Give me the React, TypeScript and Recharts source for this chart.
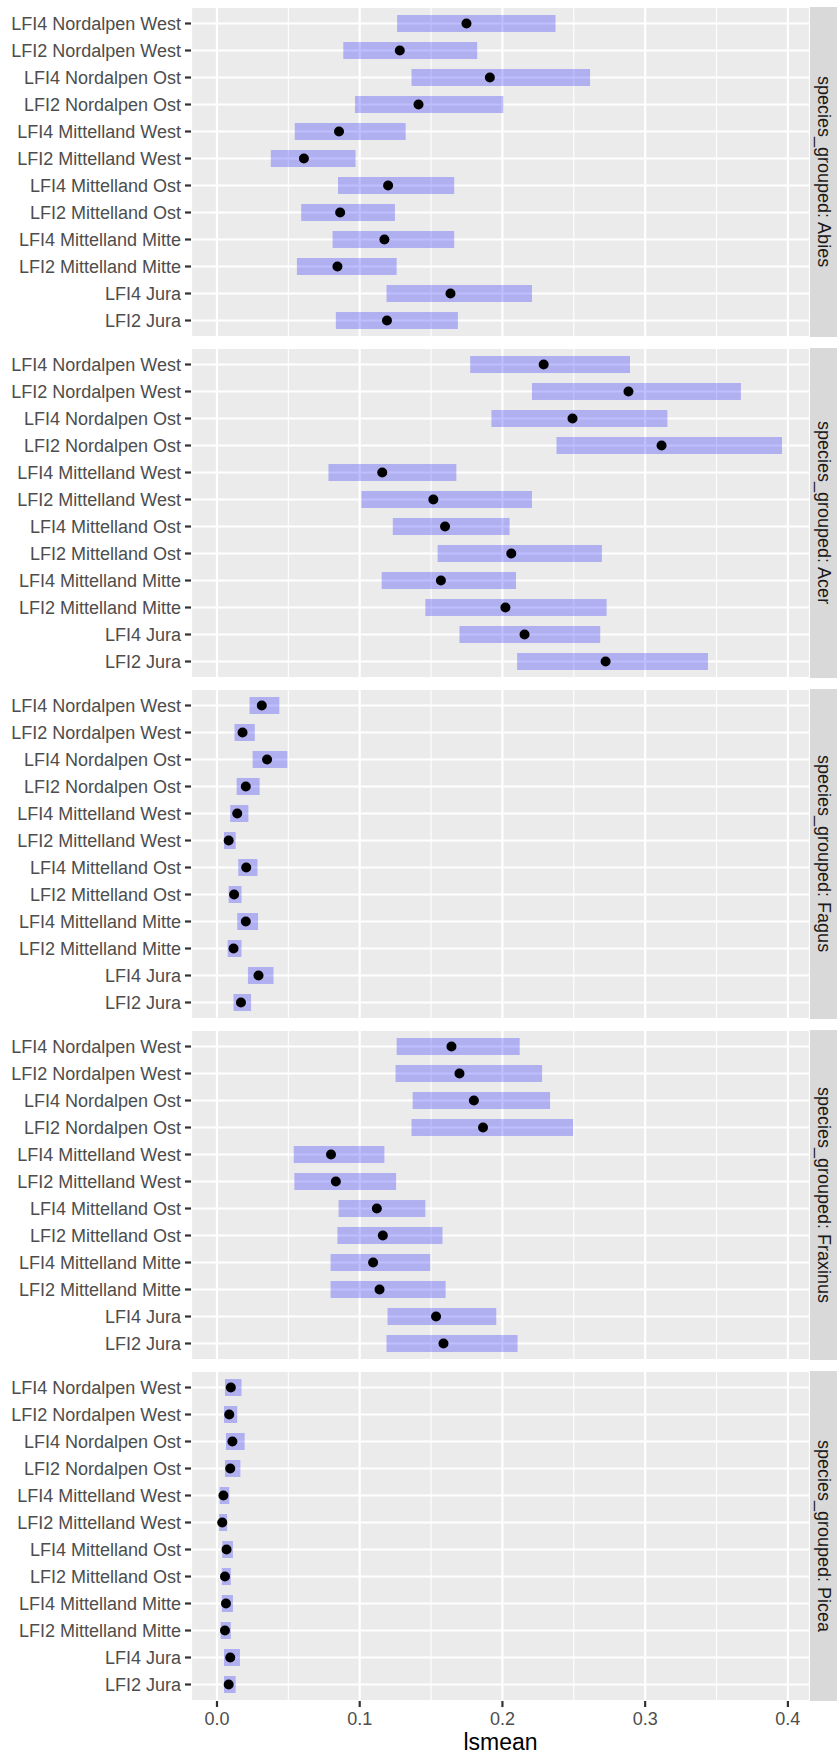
import React from 'react';
import { ComposedChart, Bar, Line, XAxis, YAxis, CartesianGrid } from 'recharts';

const categories = [
  'LFI4 Nordalpen West',
  'LFI2 Nordalpen West',
  'LFI4 Nordalpen Ost',
  'LFI2 Nordalpen Ost',
  'LFI4 Mittelland West',
  'LFI2 Mittelland West',
  'LFI4 Mittelland Ost',
  'LFI2 Mittelland Ost',
  'LFI4 Mittelland Mitte',
  'LFI2 Mittelland Mitte',
  'LFI4 Jura',
  'LFI2 Jura',
];

const xTicks = [0, 0.1, 0.2, 0.3, 0.4];
const xMinorTicks = [0.05, 0.15, 0.25, 0.35];
const xDomain = [-0.0182, 0.4155];

const abiesMean = [0.1748, 0.1281, 0.1912, 0.1412, 0.0855, 0.0609, 0.1199, 0.0863, 0.1173, 0.0844, 0.1636, 0.1191];
const abiesLow = [0.1262, 0.0885, 0.1363, 0.0967, 0.0545, 0.0377, 0.0848, 0.059, 0.081, 0.056, 0.1188, 0.0833];
const abiesHigh = [0.2372, 0.1823, 0.2614, 0.2006, 0.1322, 0.0971, 0.1662, 0.1247, 0.1662, 0.1259, 0.2207, 0.1688];

const acerMean = [0.2289, 0.2883, 0.2491, 0.3115, 0.1158, 0.1516, 0.1598, 0.2062, 0.1569, 0.2021, 0.2155, 0.2723];
const acerLow = [0.1774, 0.2207, 0.1923, 0.2379, 0.0781, 0.1012, 0.1232, 0.1546, 0.1154, 0.146, 0.1699, 0.2103];
const acerHigh = [0.2894, 0.3671, 0.3156, 0.3959, 0.1677, 0.2207, 0.205, 0.2697, 0.2095, 0.273, 0.2685, 0.344];

const fagusMean = [0.0314, 0.0179, 0.0351, 0.0202, 0.0142, 0.0082, 0.0205, 0.012, 0.0202, 0.0116, 0.0291, 0.0168];
const fagusLow = [0.0228, 0.0123, 0.025, 0.0138, 0.0093, 0.0049, 0.0149, 0.0082, 0.0142, 0.0075, 0.0217, 0.0116];
const fagusHigh = [0.0437, 0.0265, 0.0493, 0.0299, 0.022, 0.0131, 0.0284, 0.0172, 0.0288, 0.0172, 0.0396, 0.0239];

const fraxinusMean = [0.1643, 0.1699, 0.18, 0.1864, 0.0799, 0.0833, 0.112, 0.1162, 0.1094, 0.1139, 0.1535, 0.1587];
const fraxinusLow = [0.1259, 0.1251, 0.1371, 0.1363, 0.0538, 0.0542, 0.0852, 0.0844, 0.0796, 0.0796, 0.1195, 0.1188];
const fraxinusHigh = [0.2121, 0.2278, 0.2334, 0.2495, 0.1173, 0.1255, 0.146, 0.158, 0.1494, 0.1602, 0.1957, 0.2106];

const piceaMean = [0.0097, 0.0086, 0.0108, 0.0093, 0.0045, 0.0037, 0.0067, 0.0056, 0.0063, 0.0056, 0.0093, 0.0082];
const piceaLow = [0.0056, 0.0049, 0.0063, 0.0056, 0.0019, 0.0015, 0.0037, 0.0034, 0.0034, 0.0026, 0.0049, 0.0049];
const piceaHigh = [0.0172, 0.0142, 0.0194, 0.0164, 0.0086, 0.0071, 0.0112, 0.0097, 0.0112, 0.0097, 0.0161, 0.0131];

const panels = [
  { name: 'Abies', mean: abiesMean, low: abiesLow, high: abiesHigh },
  { name: 'Acer', mean: acerMean, low: acerLow, high: acerHigh },
  { name: 'Fagus', mean: fagusMean, low: fagusLow, high: fagusHigh },
  { name: 'Fraxinus', mean: fraxinusMean, low: fraxinusLow, high: fraxinusHigh },
  { name: 'Picea', mean: piceaMean, low: piceaLow, high: piceaHigh },
];

const FONT = '"Liberation Sans", Arial, Helvetica, sans-serif';
const PITCH = 341;
const PLOT_TOP = 7;
const PLOT_H = 330;

function Panel({ p, index, last }: { p: any; index: number; last: boolean }) {
  const data = categories.map((c, i) => ({ cat: c, mean: p.mean[i], range: [p.low[i], p.high[i]] }));
  const top = index * PITCH;
  const height = last ? 1755 - top : PITCH;
  return (
    <div style={{ position: 'absolute', left: 0, top, width: 837, height }}>
      <ComposedChart
        layout="vertical"
        width={837}
        height={height}
        data={data}
        margin={{ top: PLOT_TOP, right: 27, left: 0, bottom: last ? 0 : height - PLOT_TOP - PLOT_H }}
      >
        <CartesianGrid
          xAxisId="minor"
          fill="#EBEBEB"
          stroke="#FFFFFF"
          strokeWidth={1.1}
          horizontal={false}
        />
        <CartesianGrid stroke="#FFFFFF" strokeWidth={2.2} />
        <XAxis
          xAxisId="minor"
          type="number"
          domain={xDomain}
          allowDataOverflow
          ticks={xMinorTicks}
          interval={0}
          hide
        />
        <XAxis
          type="number"
          domain={xDomain}
          allowDataOverflow
          ticks={xTicks}
          interval={0}
          hide={!last}
          height={last ? height - PLOT_TOP - PLOT_H : 0}
          tickFormatter={(v: number) => v.toFixed(1)}
          tick={{ fill: '#4D4D4D', fontSize: 18, fontFamily: FONT }}
          tickLine={{ stroke: '#333333', strokeWidth: 2.2 }}
          tickSize={6}
          tickMargin={5}
          axisLine={false}
          label={{ value: 'lsmean', position: 'insideBottom', offset: 5, fill: '#000000', fontSize: 23, fontFamily: FONT }}
        />
        <YAxis
          type="category"
          dataKey="cat"
          width={191}
          padding={{ top: 3, bottom: 3 }}
          interval={0}
          tick={{ fill: '#4D4D4D', fontSize: 18, fontFamily: FONT }}
          tickLine={{ stroke: '#333333', strokeWidth: 2.2 }}
          tickSize={6}
          tickMargin={4}
          axisLine={false}
        />
        <Bar dataKey="range" barSize={17} fill="#0000FF" fillOpacity={0.25} isAnimationActive={false} />
        <Line
          dataKey="mean"
          stroke="none"
          dot={{ r: 5, fill: '#000000', stroke: 'none' }}
          activeDot={false}
          isAnimationActive={false}
        />
      </ComposedChart>
      <div
        style={{
          position: 'absolute',
          left: 810,
          top: PLOT_TOP,
          width: 27,
          height: PLOT_H,
          background: '#D9D9D9',
          display: 'flex',
          alignItems: 'center',
          justifyContent: 'center',
        }}
      >
        <span
          style={{
            writingMode: 'vertical-rl',
            fontFamily: FONT,
            fontSize: 18,
            color: '#1A1A1A',
            whiteSpace: 'nowrap',
            lineHeight: 1,
          }}
        >
          {'species_grouped: ' + p.name}
        </span>
      </div>
    </div>
  );
}

export default function App() {
  return (
    <div style={{ position: 'absolute', left: 0, top: 0, width: 837, height: 1755, background: '#FFFFFF', fontFamily: FONT }}>
      {panels.map((p, i) => (
        <Panel key={p.name} p={p} index={i} last={i === panels.length - 1} />
      ))}
    </div>
  );
}
